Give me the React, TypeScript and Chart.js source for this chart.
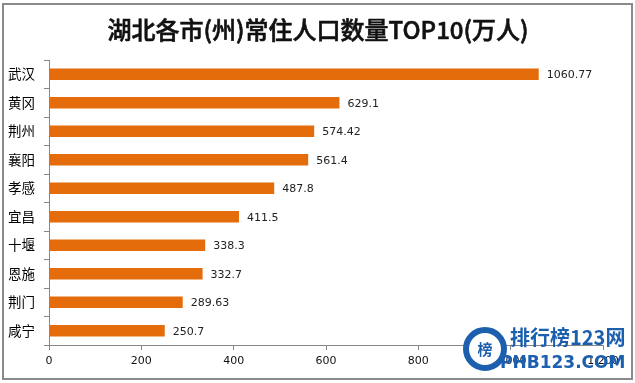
import React, { useEffect, useRef } from "react";
import { Chart, registerables } from "chart.js";

Chart.register(...registerables);

const chartTitle = "湖北各市(州)常住人口数量TOP10(万人)";
const categories = ["武汉", "黄冈", "荆州", "襄阳", "孝感", "宜昌", "十堰", "恩施", "荆门", "咸宁"];
const population = [1060.77, 629.1, 574.42, 561.4, 487.8, 411.5, 338.3, 332.7, 289.63, 250.7];
const axisMax = 1200;
const axisStep = 200;

const dataLabelPlugin = {
  id: "dataLabels",
  afterDatasetsDraw(chart: any) {
    const ctx = chart.ctx;
    const meta = chart.getDatasetMeta(0);
    ctx.save();
    ctx.font = "11px 'DejaVu Sans'";
    ctx.fillStyle = "#222";
    ctx.textAlign = "left";
    ctx.textBaseline = "middle";
    meta.data.forEach((bar: any, i: number) => {
      ctx.fillText(String(population[i]), bar.x + 8, bar.y + 1);
    });
    ctx.restore();
  },
};

const titlePlugin = {
  id: "centeredTitle",
  afterDraw(chart: any) {
    const ctx = chart.ctx;
    ctx.save();
    ctx.font = "500 24px 'Noto Sans CJK SC'";
    ctx.fillStyle = "#111";
    ctx.strokeStyle = "#111";
    ctx.lineWidth = 0.6;
    ctx.textAlign = "center";
    ctx.textBaseline = "middle";
    ctx.fillText(chartTitle, 318, 30);
    ctx.strokeText(chartTitle, 318, 30);
    ctx.restore();
  },
};

export default function App() {
  const ref = useRef<HTMLCanvasElement | null>(null);
  useEffect(() => {
    if (!ref.current) return;
    const chart = new Chart(ref.current, {
      type: "bar",
      data: {
        labels: categories,
        datasets: [
          {
            data: population,
            backgroundColor: "#E46C0A",
            borderWidth: 0,
            categoryPercentage: 1,
            barPercentage: 0.4,
          },
        ],
      },
      options: {
        indexAxis: "y",
        animation: false,
        responsive: false,
        devicePixelRatio: 1,
        layout: { padding: { left: 0, right: 32, top: 60, bottom: 0 } },
        plugins: {
          legend: { display: false },
          tooltip: { enabled: false },
          title: { display: false },
        },
        scales: {
          x: {
            min: 0,
            max: axisMax,
            ticks: {
              stepSize: axisStep,
              color: "#111",
              font: { family: "'DejaVu Sans'", size: 11 },
              padding: 5,
            },
            grid: {
              drawOnChartArea: false,
              drawTicks: true,
              tickLength: 5,
              color: "#868686",
            },
            border: { display: true, color: "#868686", width: 1 },
            afterFit(scale: any) {
              scale.height = 38;
            },
          },
          y: {
            ticks: {
              color: "#000",
              font: { family: "'Noto Sans CJK SC'", size: 13.5 },
              padding: 9,
            },
            grid: {
              drawOnChartArea: false,
              drawTicks: true,
              tickLength: 5,
              color: "#868686",
              offset: true,
            },
            border: { display: true, color: "#868686", width: 1 },
            afterFit(scale: any) {
              scale.width = 49;
            },
          },
        },
      },
      plugins: [dataLabelPlugin, titlePlugin],
    });
    return () => chart.destroy();
  }, []);

  return (
    <div
      style={{
        position: "fixed",
        left: 0,
        top: 0,
        width: 635,
        height: 383,
        background: "#fff",
        overflow: "hidden",
      }}
    >
      <canvas ref={ref} width={635} height={383} style={{ position: "absolute", left: 0, top: 0 }} />
      <div
        style={{
          position: "absolute",
          left: 2,
          top: 3,
          width: 627,
          height: 373,
          border: "2px solid #8a8a8a",
          pointerEvents: "none",
        }}
      />
      <div
        style={{
          position: "absolute",
          left: 463,
          top: 327,
          width: 32,
          height: 32,
          borderRadius: "50%",
          border: "6px solid #1c5fae",
          background: "#fff",
          color: "#1c5fae",
          fontFamily: "'Noto Sans CJK SC'",
          fontWeight: "bold",
          fontSize: 15,
          lineHeight: "32px",
          textAlign: "center",
        }}
      >
        榜
      </div>
      <div
        style={{
          position: "absolute",
          left: 510,
          top: 324,
          color: "#1c5fae",
          fontFamily: "'Noto Sans CJK SC'",
          fontWeight: "bold",
          fontSize: 20,
          lineHeight: "26px",
          whiteSpace: "nowrap",
        }}
      >
        排行榜123网
      </div>
      <div
        style={{
          position: "absolute",
          left: 500,
          top: 352,
          color: "#1c5fae",
          fontFamily: "'DejaVu Sans'",
          fontWeight: "bold",
          fontSize: 17,
          lineHeight: "20px",
          whiteSpace: "nowrap",
        }}
      >
        PHB123.COM
      </div>
    </div>
  );
}
